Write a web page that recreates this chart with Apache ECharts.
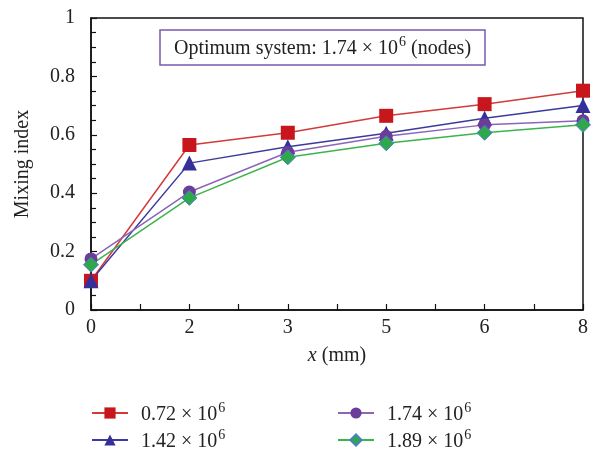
<!DOCTYPE html>
<html>
<head>
<meta charset="utf-8">
<script src="https://cdn.jsdelivr.net/npm/echarts@6/dist/echarts.min.js"></script>
<style>html,body{margin:0;padding:0;background:#fff}#c{width:592px;height:449px}</style>
</head>
<body>
<div id="c"></div>
<script>
const categories = ['0', '2', '3', '5', '6', '8'];
const seriesNames = ['0.72 × 10{sup|6}', '1.42 × 10{sup|6}', '1.74 × 10{sup|6}', '1.89 × 10{sup|6}'];
const s072 = [0.100, 0.565, 0.607, 0.665, 0.705, 0.751];
const s142 = [0.100, 0.503, 0.559, 0.605, 0.657, 0.700];
const s174 = [0.175, 0.404, 0.540, 0.595, 0.634, 0.648];
const s189 = [0.155, 0.384, 0.523, 0.571, 0.607, 0.634];
const yTicks = [0, 0.2, 0.4, 0.6, 0.8, 1];

const FONT = '"Liberation Serif", "DejaVu Serif", serif';
const FS = 20;
const rich = {
  n: { fontSize: FS, fontFamily: FONT, color: '#222', lineHeight: 24, verticalAlign: 'bottom' },
  sup: { fontSize: 14, fontFamily: FONT, color: '#222', lineHeight: 24, verticalAlign: 'top', padding: [0, 0, 0, 1] }
};
const wrap = s => '{n|' + s.replace('{sup|6}', '}{sup|6}');
const toXY = arr => arr.map((v, i) => [i, v]);

const chart = echarts.init(document.getElementById('c'));
const mk = (name, data, color, lineColor, symbol, size, border) => ({
  name, type: 'line', data: toXY(data), symbol, symbolSize: size,
  lineStyle: { color: lineColor, width: 1.5 },
  itemStyle: { color, borderColor: border || color, borderWidth: border ? 1 : 0 },
  emphasis: { disabled: true }, z: 3
});
const legendPos = [[91, 401], [91, 428], [337, 401], [337, 428]];
const legends = seriesNames.map((n, i) => ({
  data: [n], left: legendPos[i][0], top: legendPos[i][1], orient: 'vertical',
  itemWidth: 36, itemHeight: 14, padding: 0,
  formatter: s => wrap(s),
  textStyle: { fontFamily: FONT, fontSize: FS, color: '#222', padding: [0, 0, 0, 8], rich }
}));
chart.setOption({
  animation: false,
  textStyle: { fontFamily: FONT },
  title: {
    text: wrap('Optimum system: 1.74 × 10{sup|6}') + '{n| (nodes)}',
    left: 160, top: 30,
    borderColor: '#7a58ad', borderWidth: 1.5,
    padding: [5, 14, 6, 14],
    textStyle: { fontFamily: FONT, fontSize: FS, fontWeight: 'normal', color: '#222', rich }
  },
  grid: { left: 91, right: 9, top: 18, bottom: 139, show: true, borderColor: '#111', borderWidth: 1.5 },
  xAxis: {
    type: 'value', min: 0, max: categories.length - 1, interval: 1,
    name: '{i|x} (mm)', nameLocation: 'middle', nameGap: 36,
    nameTextStyle: { fontFamily: FONT, fontSize: FS, color: '#222', rich: { i: { fontStyle: 'italic', fontFamily: FONT, fontSize: FS, color: '#222' } } },
    axisLine: { lineStyle: { color: '#111', width: 1.5 } },
    axisTick: { show: true, inside: true, length: 6, lineStyle: { color: '#111', width: 1.2 } },
    minorTick: { show: true, splitNumber: 2, length: 6, lineStyle: { color: '#111', width: 1.2 } },
    axisLabel: { fontFamily: FONT, fontSize: FS, color: '#222', margin: 8, formatter: v => categories[v] },
    splitLine: { show: false }
  },
  yAxis: {
    type: 'value', min: yTicks[0], max: yTicks[yTicks.length - 1], interval: 0.2,
    name: 'Mixing index', nameLocation: 'middle', nameGap: 58, nameRotate: 90,
    nameTextStyle: { fontFamily: FONT, fontSize: FS, color: '#222' },
    axisLine: { show: true, lineStyle: { color: '#111', width: 1.5 } },
    axisTick: { show: true, inside: true, length: 6, lineStyle: { color: '#111', width: 1.2 } },
    minorTick: { show: true, splitNumber: 4, length: 5, lineStyle: { color: '#111', width: 1.2 } },
    axisLabel: { fontFamily: FONT, fontSize: FS, color: '#222', margin: 16 },
    splitLine: { show: false }
  },
  legend: legends,
  series: [
    mk(seriesNames[0], s072, '#c8161d', '#d43a3a', 'rect', 14),
    mk(seriesNames[1], s142, '#33309a', '#3d3a9e', 'triangle', 15),
    mk(seriesNames[2], s174, '#6b3d9a', '#8a66b8', 'circle', 13),
    mk(seriesNames[3], s189, '#2ea84a', '#3cb44b', 'diamond', 15, '#4a7fc1')
  ]
});
</script>
</body>
</html>
